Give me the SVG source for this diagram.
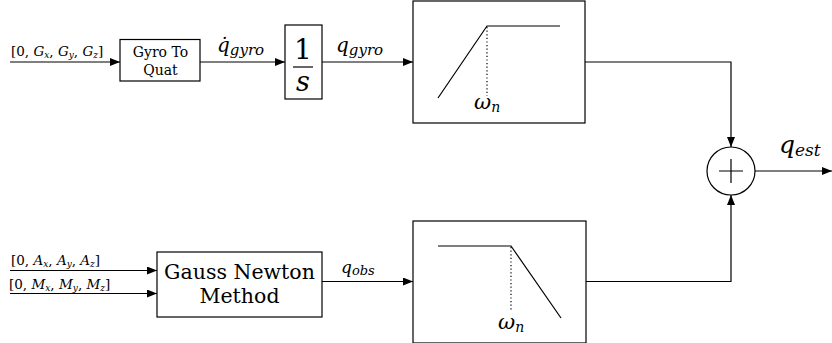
<svg xmlns="http://www.w3.org/2000/svg" width="832" height="343" viewBox="0 0 832 343">
<defs>
<marker id="arr" markerWidth="10" markerHeight="8" refX="10" refY="4" orient="auto" markerUnits="userSpaceOnUse">
<path d="M0,0 L10,4 L0,8 Z" fill="#000"/>
</marker>
<style>
.box{fill:#fff;stroke:#000;stroke-width:1.2}
.ln{fill:none;stroke:#000;stroke-width:1.2}
.dot{fill:none;stroke:#000;stroke-width:1.2;stroke-dasharray:1.2 2.4}
.it{font-style:italic}
</style>
</defs>
<rect width="832" height="343" fill="#fff"/>
<g font-family="'DejaVu Serif', 'Liberation Serif', serif" fill="#000">
<g id="connectors">
<path class="ln" d="M10,62 H120" marker-end="url(#arr)"/>
<path class="ln" d="M200,62 H285" marker-end="url(#arr)"/>
<path class="ln" d="M310,62 H413" marker-end="url(#arr)"/>
<path class="ln" d="M585,62 H731 V147" marker-end="url(#arr)"/>
<path class="ln" d="M10,270.5 H157" marker-end="url(#arr)"/>
<path class="ln" d="M10,293.5 H157" marker-end="url(#arr)"/>
<path class="ln" d="M322,281.5 H413" marker-end="url(#arr)"/>
<path class="ln" d="M586,281.5 H731 V195" marker-end="url(#arr)"/>
<path class="ln" d="M755,171 H832" marker-end="url(#arr)"/>
<text font-size="13.5" x="11" y="56">[0, <tspan class="it">G</tspan><tspan class="it" font-size="9" dy="2">x</tspan><tspan dy="-2">, </tspan><tspan class="it">G</tspan><tspan class="it" font-size="9" dy="2">y</tspan><tspan dy="-2">, </tspan><tspan class="it">G</tspan><tspan class="it" font-size="9" dy="2">z</tspan><tspan dy="-2">]</tspan></text>
<text class="it" font-size="20" x="217" y="52">q̇<tspan font-size="15" dy="3">gyro</tspan></text>
<text class="it" font-size="20" x="336" y="52">q<tspan font-size="15" dy="3">gyro</tspan></text>
<text font-size="13.5" x="11" y="265">[0, <tspan class="it">A</tspan><tspan class="it" font-size="9" dy="2">x</tspan><tspan dy="-2">, </tspan><tspan class="it">A</tspan><tspan class="it" font-size="9" dy="2">y</tspan><tspan dy="-2">, </tspan><tspan class="it">A</tspan><tspan class="it" font-size="9" dy="2">z</tspan><tspan dy="-2">]</tspan></text>
<text font-size="13.5" x="9" y="289">[0, <tspan class="it">M</tspan><tspan class="it" font-size="9" dy="2">x</tspan><tspan dy="-2">, </tspan><tspan class="it">M</tspan><tspan class="it" font-size="9" dy="2">y</tspan><tspan dy="-2">, </tspan><tspan class="it">M</tspan><tspan class="it" font-size="9" dy="2">z</tspan><tspan dy="-2">]</tspan></text>
<text class="it" font-size="17" x="341" y="273">q<tspan font-size="13" dy="2">obs</tspan></text>
<text class="it" font-size="25" x="779" y="153">q<tspan font-size="17" dy="3">est</tspan></text>
</g>
<g id="gyro2quat">
<rect class="box" x="120" y="39.5" width="80" height="41.5"/>
<text font-size="14" x="160.5" y="56.5" text-anchor="middle">Gyro To</text>
<text font-size="14" x="160.5" y="74.5" text-anchor="middle">Quat</text>
</g>
<g id="integrator">
<rect class="box" x="285" y="25" width="37" height="74"/>
<text font-size="28" x="303" y="59" text-anchor="middle">1</text>
<path class="ln" d="M293,67 H313"/>
<text class="it" font-size="27" x="303" y="91" text-anchor="middle">s</text>
</g>
<g id="highpass">
<rect class="box" x="413" y="1" width="172" height="122"/>
<path class="ln" d="M438,98 L487,26 H560"/>
<path class="dot" d="M487,27 V96"/>
<text class="it" font-size="21" x="474" y="109">ω<tspan font-size="14" dy="3">n</tspan></text>
</g>
<g id="gaussnewton">
<rect class="box" x="157" y="252" width="165" height="65"/>
<text font-size="20.5" x="239.5" y="279" text-anchor="middle">Gauss Newton</text>
<text font-size="20.5" x="239.5" y="303" text-anchor="middle">Method</text>
</g>
<g id="lowpass">
<rect class="box" x="413" y="221" width="173" height="122"/>
<path class="ln" d="M438,246 H511 L561,318"/>
<path class="dot" d="M511,247 V311"/>
<text class="it" font-size="21" x="498" y="329">ω<tspan font-size="14" dy="3">n</tspan></text>
</g>
<g id="sum">
<circle class="box" cx="731" cy="171" r="24"/>
<path class="ln" d="M719,171 H743 M731,159 V183"/>
</g>
</g>
</svg>
